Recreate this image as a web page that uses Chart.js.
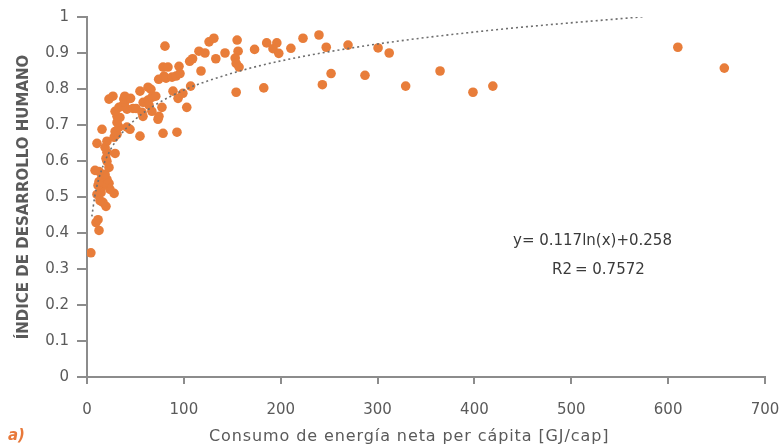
<!DOCTYPE html>
<html>
<head>
<meta charset="utf-8">
<script src="https://cdn.jsdelivr.net/npm/chart.js@4/dist/chart.umd.min.js"></script>
<style>
  html, body { margin: 0; padding: 0; background: #ffffff; }
  #wrap { position: relative; width: 779px; height: 445px; }
  canvas { position: absolute; left: 0; top: 0; }
  .note { position: absolute; font-family: "DejaVu Sans", sans-serif; color: #3a3a3a; white-space: nowrap; }
</style>
</head>
<body>
<div id="wrap">
  <canvas id="c" width="779" height="445"></canvas>
  <div class="note" id="eq" style="left:513px; top:231px; font-size:15px;">y= 0.117ln(x)+0.258</div>
  <div class="note" id="r2" style="left:552px; top:260px; font-size:15px;">R2&#8201;= 0.7572</div>
  <div class="note" id="xt" style="left:209px; top:426px; font-size:16px; letter-spacing:0.9px; color:#5a5a5a;">Consumo de energía neta per cápita [GJ/cap]</div>
  <div class="note" id="lab" style="left:8px; top:426px; font-size:15px; font-weight:bold; font-style:italic; color:#e8793a;">a)</div>
</div>
<script>
// Energy consumption per capita [GJ/cap]
const energyGJ = [
  4, 12.4, 9.3, 11.4, 19.6, 16.5, 13.4, 10.3, 14.5, 28,
  23.7, 15.5, 11.4, 22.7, 17.6, 12.4, 20.6, 15.5, 18.6, 12.4,
  8.3, 22.7, 20.6, 19.6, 29, 20.6, 18.6, 10.3, 20.6, 28,
  31, 29, 15.5, 44.4, 41.3, 33, 31, 34, 31, 29,
  41.3, 33, 36, 39, 38, 22.7, 26.8, 39, 47.5, 50.6,
  45, 54.7, 57.8, 54.7, 56.8, 58, 63, 66, 63, 64,
  67, 67, 71, 73.3, 74.3, 77.4, 78.5, 92.9, 74, 79.5,
  81.6, 87.8, 92, 96, 78.5, 83.6, 95, 80.5, 88.8, 94,
  99, 103, 107, 106, 109, 117.7, 115.6, 121.8, 126, 131,
  133, 142.5, 155, 156, 153, 154, 157, 154, 173, 182.5,
  185.5, 192, 196, 198, 210.5, 223, 239.5, 247, 243, 252,
  269.5, 287, 300.5, 312, 329, 364.5, 398.5, 419, 610, 658
];
// Human development index
const hdi = [
  0.345, 0.407, 0.429, 0.437, 0.474, 0.485, 0.490, 0.507, 0.512, 0.510,
  0.521, 0.529, 0.532, 0.538, 0.540, 0.543, 0.549, 0.557, 0.563, 0.571,
  0.574, 0.582, 0.599, 0.607, 0.621, 0.624, 0.638, 0.649, 0.655, 0.666,
  0.674, 0.682, 0.688, 0.688, 0.694, 0.694, 0.707, 0.721, 0.724, 0.738,
  0.744, 0.749, 0.752, 0.763, 0.772, 0.772, 0.780, 0.780, 0.746, 0.746,
  0.774, 0.669, 0.724, 0.794, 0.735, 0.763, 0.805, 0.799, 0.769, 0.755,
  0.738, 0.777, 0.780, 0.716, 0.724, 0.749, 0.677, 0.680, 0.827, 0.836,
  0.830, 0.833, 0.836, 0.843, 0.861, 0.861, 0.863, 0.919, 0.794, 0.774,
  0.788, 0.749, 0.808, 0.877, 0.884, 0.850, 0.905, 0.900, 0.931, 0.941,
  0.884, 0.900, 0.936, 0.905, 0.886, 0.871, 0.861, 0.791, 0.910, 0.803,
  0.928, 0.912, 0.928, 0.899, 0.913, 0.941, 0.950, 0.916, 0.812, 0.843,
  0.922, 0.838, 0.914, 0.900, 0.808, 0.850, 0.791, 0.808, 0.916, 0.858
];
// Logarithmic trend line
const trendX = [5, 8, 12, 18, 25, 35, 50, 70, 100, 150, 200, 300, 420, 575];
const trendY = [0.446, 0.501, 0.549, 0.596, 0.635, 0.674, 0.716, 0.755, 0.797, 0.844, 0.878, 0.925, 0.964, 1.001];

const xTicks = [0, 100, 200, 300, 400, 500, 600, 700];
const yTicks = [0, 0.1, 0.2, 0.3, 0.4, 0.5, 0.6, 0.7, 0.8, 0.9, 1];

const points = energyGJ.map((x, i) => ({ x: x, y: hdi[i] }));
const trend = trendX.map((x, i) => ({ x: x, y: trendY[i] }));

const FONT = '"DejaVu Sans", sans-serif';
const AXIS = '#8c8c8c';
const TXT = '#5a5a5a';

new Chart(document.getElementById('c'), {
  type: 'scatter',
  data: {
    datasets: [
      {
        label: 'IDH',
        data: points,
        backgroundColor: 'rgb(232,125,58)',
        borderWidth: 0,
        pointRadius: 4.8,
        pointHoverRadius: 4.8,
        order: 2
      },
      {
        label: 'Tendencia',
        data: trend,
        type: 'line',
        showLine: true,
        borderColor: '#6e6e6e',
        borderWidth: 1.6,
        borderDash: [2, 3],
        pointRadius: 0,
        fill: false,
        cubicInterpolationMode: 'monotone',
        order: 1
      }
    ]
  },
  options: {
    responsive: false,
    animation: false,
    devicePixelRatio: 1,
    layout: { padding: { top: 17, right: 14, left: 0, bottom: 0 } },
    plugins: { legend: { display: false }, tooltip: { enabled: false } },
    scales: {
      x: {
        type: 'linear',
        min: 0, max: 700,
        afterFit: s => { s.height = 68; s.paddingLeft = 0; s.paddingRight = 0; },
        afterBuildTicks: s => { s.ticks = xTicks.map(v => ({ value: v })); },
        border: { display: true, color: AXIS, width: 2 },
        grid: { display: true, drawOnChartArea: false, drawTicks: true, tickLength: 7, color: AXIS, lineWidth: 2 },
        ticks: { color: TXT, font: { family: FONT, size: 15 }, padding: 17, maxRotation: 0 },
        title: { display: false }
      },
      y: {
        type: 'linear',
        min: 0, max: 1,
        afterFit: s => { s.width = 87; s.paddingTop = 0; s.paddingBottom = 0; },
        afterBuildTicks: s => { s.ticks = yTicks.map(v => ({ value: v })); },
        border: { display: true, color: AXIS, width: 2 },
        grid: { display: true, drawOnChartArea: false, drawTicks: true, tickLength: 10, color: AXIS, lineWidth: 2 },
        ticks: { color: TXT, font: { family: FONT, size: 15 }, padding: 8, callback: v => String(v) },
        title: { display: true, text: 'ÍNDICE DE DESARROLLO HUMANO', color: TXT, font: { family: FONT, size: 15, weight: 'bold' }, padding: { top: 15, bottom: 0 } }
      }
    }
  }
});
</script>
</body>
</html>
